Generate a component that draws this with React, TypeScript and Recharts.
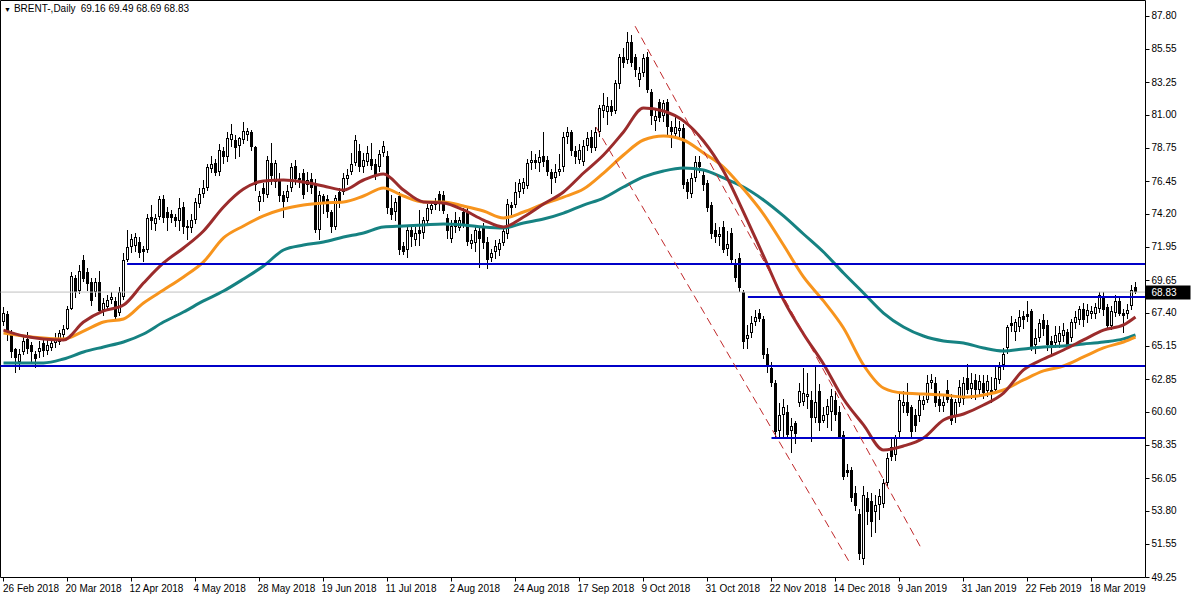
import React from 'react';
import { ComposedChart, Bar, Line, XAxis, YAxis, ReferenceLine } from 'recharts';

// Brent daily candles: [open, high, low, close]
const candlesFebMar18 = [
  [66.8, 67.8, 66.5, 67.4], [67.3, 67.5, 65.5, 65.9], [65.9, 66.2, 64.3, 64.7], [64.9, 65.0, 63.3, 64.3],
  [64.0, 64.9, 63.5, 64.6], [64.7, 65.8, 64.5, 65.5], [65.6, 66.1, 64.6, 64.9], [65.2, 65.4, 64.0, 64.7],
  [64.6, 64.8, 63.6, 64.2], [64.7, 65.5, 64.3, 65.0], [65.3, 65.7, 64.4, 64.8], [64.8, 65.6, 64.5, 65.2],
  [65.0, 65.6, 64.8, 65.3], [65.3, 66.0, 65.0, 65.6], [65.4, 66.2, 65.2, 66.0], [65.9, 66.6, 65.7, 66.3],
  [66.3, 67.9, 66.2, 67.7], [67.7, 70.2, 67.6, 69.9], [69.8, 70.0, 68.4, 68.8], [68.9, 70.7, 68.7, 70.3],
  [71.0, 71.4, 69.5, 69.7], [70.2, 70.5, 68.9, 69.4], [69.5, 69.8, 67.9, 68.2], [68.8, 69.8, 68.5, 69.5],
];
const candlesApr18 = [
  [69.5, 70.3, 67.3, 67.5], [67.6, 68.4, 67.2, 68.1], [67.8, 68.6, 67.5, 68.3], [68.3, 68.8, 68.0, 68.5],
  [68.2, 68.5, 66.9, 67.1], [67.4, 69.2, 67.2, 68.8], [68.5, 71.5, 68.3, 71.0], [71.0, 73.1, 70.9, 71.9],
  [71.9, 72.8, 71.5, 72.5], [72.0, 72.9, 71.6, 72.6], [72.3, 72.6, 71.2, 71.5], [71.8, 72.0, 70.9, 71.6],
  [71.7, 74.2, 71.5, 73.9], [74.0, 74.8, 73.1, 73.7], [73.5, 74.2, 73.0, 73.9], [74.0, 75.4, 73.8, 75.2],
  [75.2, 75.5, 73.6, 73.9], [74.3, 74.7, 73.0, 73.9], [74.2, 74.5, 73.6, 73.9], [74.0, 74.2, 73.3, 73.7],
  [73.7, 75.3, 73.0, 74.6], [74.7, 75.0, 72.8, 73.3], [73.4, 73.8, 72.4, 73.2], [73.2, 74.2, 72.9, 73.8],
];
const candlesMay18 = [
  [73.8, 75.3, 73.5, 75.0], [74.9, 76.0, 74.6, 75.6], [75.6, 76.5, 75.3, 76.0], [76.0, 77.6, 75.8, 77.4],
  [77.3, 78.2, 77.0, 77.6], [77.7, 78.0, 76.8, 77.0], [77.1, 79.0, 76.8, 78.6], [78.5, 78.8, 77.6, 78.1],
  [78.1, 79.8, 77.8, 79.4], [79.3, 80.4, 78.8, 79.7], [79.3, 79.6, 78.0, 78.7], [78.9, 79.5, 78.1, 79.4],
  [79.3, 80.5, 79.0, 79.9], [79.6, 80.1, 79.2, 79.9], [79.8, 80.0, 78.5, 78.8], [78.8, 78.9, 75.8, 76.2],
  [75.0, 75.8, 74.4, 75.4], [76.0, 76.3, 75.0, 75.6], [75.5, 78.2, 75.3, 77.9], [77.7, 79.1, 76.2, 76.8],
  [76.4, 77.9, 76.0, 77.7], [76.5, 77.0, 75.0, 75.4], [75.5, 75.8, 73.9, 75.0], [75.3, 76.2, 75.0, 75.8],
];
const candlesJun18 = [
  [76.0, 77.7, 75.7, 77.4], [77.5, 77.9, 76.2, 76.6], [76.5, 77.0, 76.0, 76.7], [77.0, 77.3, 75.2, 75.5],
  [76.2, 77.1, 75.7, 76.5], [76.6, 77.0, 75.6, 76.0], [76.3, 76.6, 72.9, 73.1], [73.1, 75.8, 72.4, 75.5],
  [75.4, 75.6, 74.2, 75.0], [75.2, 75.5, 73.9, 74.3], [74.3, 74.5, 72.9, 73.3], [73.3, 75.5, 73.1, 75.3],
  [75.7, 76.0, 74.6, 75.0], [75.7, 77.0, 75.5, 76.7], [76.6, 77.3, 76.2, 76.9], [77.1, 78.4, 76.9, 77.6],
  [77.7, 79.6, 77.5, 79.3], [78.5, 79.0, 77.1, 77.4], [77.4, 78.4, 77.0, 77.9], [77.8, 78.9, 77.5, 78.4],
  [78.0, 79.1, 77.2, 77.5], [77.6, 78.0, 76.5, 76.9], [77.4, 78.6, 77.1, 78.3], [78.4, 79.2, 78.1, 78.9],
];
const candlesJul18 = [
  [78.2, 78.5, 74.2, 74.6], [74.6, 75.5, 73.8, 74.1], [74.3, 75.3, 73.7, 75.0], [75.4, 75.7, 71.4, 71.7],
  [72.0, 72.3, 71.4, 71.6], [71.7, 73.4, 71.2, 73.1], [73.1, 73.3, 71.9, 72.6], [72.4, 73.3, 72.0, 72.9],
  [73.1, 74.5, 72.0, 72.8], [72.9, 74.0, 72.5, 73.8], [73.7, 74.9, 73.4, 74.6], [74.5, 75.0, 74.2, 74.8],
  [74.8, 75.3, 74.5, 75.0], [75.6, 75.8, 74.4, 74.9], [75.5, 75.8, 74.2, 74.4], [73.9, 74.2, 72.5, 73.0],
  [72.5, 73.8, 72.2, 73.4], [73.8, 74.3, 72.9, 73.3], [73.2, 74.0, 73.0, 73.8], [74.3, 74.6, 73.2, 73.5],
  [74.3, 74.6, 72.0, 72.3], [72.1, 72.8, 71.8, 72.4], [72.2, 73.4, 71.6, 73.1], [73.0, 73.3, 70.5, 72.5],
];
const candlesAug18 = [
  [73.4, 73.6, 71.8, 72.2], [72.3, 72.6, 70.4, 71.0], [71.2, 71.8, 70.9, 71.5], [71.6, 72.4, 71.1, 72.0],
  [71.7, 72.5, 71.3, 72.2], [72.2, 73.4, 72.0, 73.0], [72.8, 75.2, 72.5, 74.9], [74.8, 75.0, 74.0, 74.6],
  [74.8, 76.4, 74.6, 75.7], [75.7, 76.6, 75.3, 76.3], [75.9, 76.7, 75.6, 76.4], [76.1, 78.0, 75.9, 77.7],
  [77.7, 78.5, 77.2, 77.9], [77.9, 78.3, 77.3, 77.7], [77.7, 78.6, 77.1, 78.1], [78.2, 79.8, 77.4, 77.8],
  [77.9, 78.2, 76.8, 77.1], [77.1, 77.3, 75.6, 76.6], [76.7, 77.6, 76.3, 77.1], [77.1, 78.3, 76.8, 77.3],
  [77.4, 79.8, 77.1, 79.5], [79.5, 80.2, 79.0, 79.8], [79.8, 80.0, 78.2, 78.5], [78.5, 78.9, 77.6, 78.1],
];
const candlesSep18 = [
  [77.9, 79.0, 77.6, 78.6], [77.8, 79.3, 77.5, 78.9], [78.9, 79.8, 78.5, 79.4], [79.5, 80.0, 78.4, 78.7],
  [78.7, 80.2, 78.5, 79.8], [79.8, 81.7, 79.5, 81.5], [81.3, 82.5, 80.8, 81.7], [81.2, 82.2, 80.3, 81.6],
  [81.6, 82.0, 80.9, 81.2], [81.3, 83.4, 81.1, 83.2], [83.1, 85.2, 82.8, 85.0], [85.0, 85.6, 84.2, 84.6],
  [84.8, 86.7, 84.5, 86.0], [86.0, 86.5, 84.3, 84.6], [85.0, 85.2, 83.6, 84.1], [83.4, 84.3, 82.9, 83.9],
  [83.9, 85.2, 83.6, 84.9], [85.0, 85.3, 82.5, 82.7], [82.6, 82.8, 80.3, 80.9], [80.6, 81.4, 79.9, 80.9],
  [81.9, 82.1, 80.5, 80.8], [80.9, 82.0, 80.5, 81.8], [81.9, 82.1, 79.5, 80.2], [80.2, 80.6, 78.7, 79.8],
];
const candlesOctNov18 = [
  [79.7, 80.9, 79.4, 80.2], [79.9, 80.6, 79.5, 80.1], [80.1, 80.4, 75.9, 76.2], [76.4, 76.6, 75.2, 75.7],
  [75.6, 77.0, 75.3, 76.7], [76.7, 78.2, 76.4, 77.8], [77.8, 78.2, 77.0, 77.4], [76.9, 77.3, 75.8, 76.2],
  [76.3, 76.5, 74.3, 74.6], [74.8, 75.0, 72.5, 72.8], [73.1, 73.6, 72.2, 72.6], [72.6, 73.3, 72.0, 72.8],
  [73.3, 73.7, 71.5, 71.7], [71.8, 73.0, 71.3, 72.1], [72.9, 73.2, 70.8, 71.0], [70.8, 71.1, 69.5, 69.8],
  [71.2, 71.5, 68.8, 69.1], [68.8, 69.0, 64.9, 65.4], [65.6, 66.6, 64.9, 65.9], [66.0, 67.2, 65.7, 66.7],
  [66.8, 67.6, 66.5, 67.1], [67.4, 67.7, 66.8, 67.0], [67.0, 67.2, 64.2, 64.5], [64.6, 65.0, 63.3, 63.8],
];
const candlesNovDec18 = [
  [63.6, 64.0, 62.3, 62.6], [62.6, 62.8, 58.8, 59.2], [59.3, 61.2, 58.8, 60.4], [60.4, 61.5, 58.9, 60.9],
  [60.6, 61.1, 58.7, 59.0], [59.3, 60.2, 57.8, 59.6], [59.8, 60.0, 58.4, 59.1], [61.2, 62.6, 60.9, 62.0],
  [61.3, 63.6, 61.0, 61.9], [61.6, 63.3, 60.8, 61.8], [61.4, 62.0, 58.5, 60.2], [60.2, 63.7, 59.8, 61.3],
  [62.0, 62.5, 59.3, 59.8], [60.0, 60.9, 59.8, 60.4], [60.4, 61.5, 59.5, 61.0], [60.6, 62.2, 59.3, 61.7],
  [61.4, 62.0, 60.0, 60.4], [60.6, 61.0, 58.7, 58.9], [59.0, 59.3, 55.9, 56.1], [56.6, 57.0, 56.1, 56.4],
  [56.6, 56.8, 54.4, 54.7], [55.0, 55.5, 53.8, 54.1], [53.6, 53.9, 50.4, 50.8], [50.5, 55.5, 50.1, 54.9],
];
const candlesJan19 = [
  [54.7, 55.1, 52.8, 53.7], [54.5, 55.0, 52.0, 53.0], [53.7, 54.9, 52.3, 54.2], [54.2, 55.3, 53.2, 54.8],
  [54.3, 56.0, 54.0, 55.7], [55.7, 57.8, 55.5, 57.4], [58.2, 58.8, 57.2, 57.5], [57.6, 59.0, 57.2, 58.8],
  [59.2, 61.8, 58.9, 61.4], [61.0, 62.0, 60.5, 61.3], [61.3, 62.6, 60.3, 60.5], [60.9, 61.1, 58.9, 59.2],
  [60.4, 60.8, 59.2, 59.6], [60.3, 61.8, 59.9, 61.4], [61.1, 61.7, 60.7, 61.4], [61.4, 63.1, 61.2, 62.6],
  [62.6, 63.2, 62.2, 62.8], [62.6, 63.0, 60.9, 61.2], [61.5, 62.0, 60.6, 61.0], [61.0, 61.7, 60.6, 61.3],
  [62.1, 62.8, 61.2, 61.4], [61.5, 61.8, 59.7, 60.0], [60.3, 61.5, 59.8, 61.3], [61.2, 62.8, 60.9, 62.3],
];
const candlesFeb19 = [
  [61.5, 63.0, 61.1, 62.6], [62.9, 63.9, 61.8, 62.1], [62.2, 63.3, 61.5, 62.6], [62.8, 63.2, 61.4, 62.1],
  [62.1, 63.1, 61.6, 62.7], [62.6, 63.1, 61.5, 61.9], [62.0, 63.1, 61.6, 62.7], [62.1, 63.0, 61.2, 61.8],
  [62.1, 63.7, 61.9, 62.9], [62.8, 64.0, 62.5, 63.7], [63.8, 65.0, 63.5, 64.6], [65.0, 66.6, 64.6, 66.4],
  [66.7, 67.2, 66.1, 66.5], [66.1, 67.0, 65.5, 66.8], [66.4, 67.6, 66.1, 67.1], [67.2, 67.5, 66.3, 66.9],
  [67.3, 68.2, 66.8, 67.1], [67.5, 67.7, 64.8, 65.0], [65.2, 66.3, 64.6, 65.7], [65.7, 67.0, 65.4, 66.7],
  [66.9, 67.3, 65.8, 66.3], [66.6, 66.9, 64.8, 65.2], [65.5, 65.8, 64.5, 65.2], [65.3, 66.5, 65.0, 65.9],
];
const candlesMar19 = [
  [65.4, 66.5, 65.0, 66.0], [65.8, 66.7, 65.4, 66.2], [66.1, 66.3, 64.9, 65.2], [65.7, 67.0, 65.4, 66.8],
  [66.7, 67.5, 66.3, 67.1], [66.9, 67.9, 66.6, 67.7], [67.7, 68.1, 66.4, 66.9], [67.2, 68.0, 66.7, 67.6],
  [67.3, 67.9, 67.0, 67.5], [67.3, 68.1, 67.0, 67.8], [67.7, 68.8, 67.4, 68.6], [68.5, 68.8, 67.2, 67.6],
  [67.8, 68.0, 66.2, 66.5], [66.5, 67.9, 66.2, 67.5], [67.4, 68.6, 67.1, 68.2], [68.2, 68.5, 67.2, 67.3],
  [67.4, 67.7, 66.0, 67.2], [67.3, 68.0, 67.0, 67.6], [67.9, 69.3, 67.6, 69.0], [69.16, 69.49, 68.69, 68.83],
];

// moving averages at these bars
const maBars = [
  0, 5, 10, 15, 20, 25, 30, 35, 40, 45, 50, 55, 60, 65, 70, 75, 80, 85, 90, 95,
  100, 105, 110, 115, 120, 125, 130, 135, 140, 145, 150, 155, 160, 165, 170, 175, 180, 185, 190, 195,
  200, 205, 210, 215, 220, 225, 230, 235, 240, 245, 250, 255, 260, 265, 270, 275, 280, 283,
];
const maFast = [
  66.22, 65.81, 65.61, 65.54, 66.77, 67.53, 67.94, 69.45, 70.83, 71.86, 73.03, 74.68, 75.91, 76.46, 76.53, 76.39, 76.12, 75.84, 76.53, 76.95,
  75.84, 75.02, 74.95, 74.47, 73.78, 73.30, 73.99, 74.88, 75.71, 77.01, 78.25, 79.83, 81.48, 81.27, 80.59, 79.21, 77.15, 74.33, 71.31, 68.29,
  65.95, 63.89, 61.48, 59.70, 57.98, 58.25, 58.80, 60.04, 60.45, 61.07, 61.89, 63.48, 64.23, 64.85, 65.54, 66.22, 66.57, 67.12,
];
const maMid = [
  66.02, 65.81, 65.67, 65.61, 66.15, 66.77, 66.98, 68.08, 68.97, 69.87, 70.90, 72.55, 73.37, 74.06, 74.54, 74.81, 74.95, 75.02, 75.43, 75.98,
  75.43, 75.02, 75.02, 74.74, 74.40, 73.92, 74.33, 74.88, 75.36, 75.91, 77.01, 78.25, 79.28, 79.55, 79.28, 78.39, 77.42, 75.91, 74.19, 72.06,
  69.87, 68.22, 66.36, 63.82, 62.24, 61.89, 61.83, 61.76, 61.62, 61.76, 62.10, 62.79, 63.41, 63.75, 64.37, 64.99, 65.40, 65.74,
];
const maSlow = [
  63.96, 63.96, 63.96, 64.23, 64.71, 65.06, 65.40, 65.95, 66.77, 67.46, 68.22, 68.90, 69.73, 70.62, 71.72, 72.06, 72.27, 72.61, 72.89, 73.30,
  73.37, 73.44, 73.51, 73.44, 73.30, 73.23, 73.58, 73.85, 74.26, 74.81, 75.29, 76.05, 76.74, 77.15, 77.36, 77.22, 76.67, 76.05, 75.16, 74.06,
  72.82, 71.58, 70.14, 68.77, 67.39, 66.43, 65.81, 65.47, 65.33, 64.99, 64.78, 64.92, 65.06, 65.12, 65.26, 65.40, 65.61, 65.88,
];

const dateTicks = [0, 16, 32, 48, 64, 80, 96, 112, 128, 144, 160, 176, 192, 208, 224, 240, 256, 272];
const dateLabels = [
  '26 Feb 2018', '20 Mar 2018', '12 Apr 2018', '4 May 2018', '28 May 2018', '19 Jun 2018',
  '11 Jul 2018', '2 Aug 2018', '24 Aug 2018', '17 Sep 2018', '9 Oct 2018', '31 Oct 2018',
  '22 Nov 2018', '14 Dec 2018', '9 Jan 2019', '31 Jan 2019', '22 Feb 2019', '18 Mar 2019',
];
const priceTicks = [
  49.25, 51.55, 53.8, 56.05, 58.35, 60.6, 62.85, 65.15, 67.4, 69.65, 71.95, 74.2, 76.45, 78.75, 81.0, 83.25, 85.55, 87.8,
];
const lastPrice = 68.83;
const lastQuote = [69.16, 69.49, 68.69, 68.83];

// horizontal support / resistance levels: [first bar, price]
const levels = [[30.9, 70.76], [186.1, 68.49], [-0.75, 63.75], [192, 58.8]];
// falling channel: [bar, price, bar, price]
const channel = [[157.9, 87.1, 229.4, 51.24], [148.1, 80.17, 211.6, 50.21]];

const X_DOMAIN: [number, number] = [-0.75, 285.5];
const Y_DOMAIN: [number, number] = [49.216, 88.865];
const FONT = '"Liberation Sans", Arial, sans-serif';

const candles = [
  ...candlesFebMar18, ...candlesApr18, ...candlesMay18, ...candlesJun18, ...candlesJul18, ...candlesAug18,
  ...candlesSep18, ...candlesOctNov18, ...candlesNovDec18, ...candlesJan19, ...candlesFeb19, ...candlesMar19,
];

const fastAt = new Map(maBars.map((b, k) => [b, maFast[k]]));
const midAt = new Map(maBars.map((b, k) => [b, maMid[k]]));
const slowAt = new Map(maBars.map((b, k) => [b, maSlow[k]]));

const data = candles.map(([o, h, l, c], i) => ({
  i, o, h, l, c,
  range: [l, h],
  fast: fastAt.get(i) ?? null,
  mid: midAt.get(i) ?? null,
  slow: slowAt.get(i) ?? null,
}));

const Candle = (props: any) => {
  const { x, y, width, height, payload } = props;
  const { o, h, l, c } = payload;
  const top = Math.min(y, y + height);
  const hgt = Math.abs(height);
  const cx = Math.floor(x + width / 2);
  const py = (v: number) => (h === l ? top : top + ((h - v) / (h - l)) * hgt);
  const bTop = Math.round(py(Math.max(o, c)));
  const bBot = Math.round(py(Math.min(o, c)));
  const up = c >= o;
  return (
    <g>
      <line x1={cx + 0.5} x2={cx + 0.5} y1={Math.round(top)} y2={Math.round(top + hgt)} stroke="#000" strokeWidth={1} />
      {up ? (
        <rect x={cx - 0.5} y={bTop + 0.5} width={2} height={Math.max(bBot - bTop - 1, 1)} fill="#fff" stroke="#000" strokeWidth={1} />
      ) : (
        <rect x={cx - 1} y={bTop} width={3} height={Math.max(bBot - bTop, 1)} fill="#000" />
      )}
    </g>
  );
};

const DateTick = ({ x, y, payload }: any) => {
  const k = dateTicks.indexOf(payload.value);
  const px = Math.floor(x) + 0.5;
  return (
    <g>
      <line x1={px} x2={px} y1={y} y2={y + 4} stroke="#000" />
      <text x={Math.max(3, px - 2)} y={y + 14} fontSize={10} fontFamily={FONT} fill="#000" textAnchor="start">
        {dateLabels[k]}
      </text>
    </g>
  );
};

const PriceTick = ({ x, y, payload }: any) => {
  const py = Math.round(y) + 0.5;
  if (payload.value === lastPrice) {
    return (
      <g>
        <rect x={x} y={py - 7} width={45} height={14} fill="#000" />
        <text x={x + 6} y={y} dy="0.35em" fontSize={10} fontFamily={FONT} fill="#fff">
          {payload.value.toFixed(2)}
        </text>
      </g>
    );
  }
  return (
    <g>
      <line x1={x} x2={x + 4} y1={py} y2={py} stroke="#000" />
      <text x={x + 6} y={y} dy="0.35em" fontSize={10} fontFamily={FONT} fill="#000">
        {payload.value.toFixed(2)}
      </text>
    </g>
  );
};

export default function App() {
  return (
    <div style={{ position: 'absolute', left: 0, top: 0, width: 1200, height: 600, background: '#fff' }}>
      <ComposedChart width={1200} height={600} data={data} margin={{ top: 0.5, right: 0, bottom: 0.5, left: 0.5 }}>
        <XAxis
          dataKey="i"
          type="number"
          domain={X_DOMAIN}
          allowDataOverflow
          ticks={dateTicks}
          interval={0}
          height={22}
          tickSize={0}
          tickMargin={0}
          tickLine={false}
          axisLine={{ stroke: '#000' }}
          tick={(p: any) => <DateTick {...p} />}
        />
        <YAxis
          orientation="right"
          type="number"
          domain={Y_DOMAIN}
          allowDataOverflow
          ticks={[...priceTicks, lastPrice]}
          interval={0}
          width={54.5}
          tickSize={0}
          tickMargin={0}
          tickLine={false}
          axisLine={{ stroke: '#000' }}
          tick={(p: any) => <PriceTick {...p} />}
        />
        {/* frame: top and left edges */}
        <ReferenceLine y={Y_DOMAIN[1]} stroke="#000" />
        <ReferenceLine x={X_DOMAIN[0]} stroke="#000" />
        <ReferenceLine y={lastPrice} stroke="#c0c0c0" />

        <Bar dataKey="range" barSize={4} shape={<Candle />} isAnimationActive={false} />

        <Line dataKey="slow" type="monotone" connectNulls dot={false} stroke="#168282" strokeWidth={3} isAnimationActive={false} />
        <Line dataKey="mid" type="monotone" connectNulls dot={false} stroke="#f7941d" strokeWidth={3} isAnimationActive={false} />
        <Line dataKey="fast" type="monotone" connectNulls dot={false} stroke="#9b2c2c" strokeWidth={3} isAnimationActive={false} />

        {levels.map(([from, price], k) => (
          <ReferenceLine
            key={`lvl-${k}`}
            segment={[{ x: from, y: price }, { x: X_DOMAIN[1], y: price }]}
            stroke="#0000c8"
            strokeWidth={2}
          />
        ))}
        {channel.map(([x1, y1, x2, y2], k) => (
          <ReferenceLine
            key={`ch-${k}`}
            segment={[{ x: x1, y: y1 }, { x: x2, y: y2 }]}
            stroke="#c0282a"
            strokeDasharray="8 5"
            strokeWidth={1}
          />
        ))}
      </ComposedChart>
      <div
        style={{
          position: 'absolute', left: 4, top: 3, fontFamily: FONT, fontSize: 10, color: '#000',
          whiteSpace: 'pre', lineHeight: '12px', background: 'transparent',
        }}
      >
        <span style={{ fontSize: 7, marginRight: 3 }}>▼</span>
        <span>BRENT-,Daily</span>
        <span style={{ marginLeft: 5 }}>{lastQuote.map((v) => v.toFixed(2)).join(' ')}</span>
      </div>
    </div>
  );
}
